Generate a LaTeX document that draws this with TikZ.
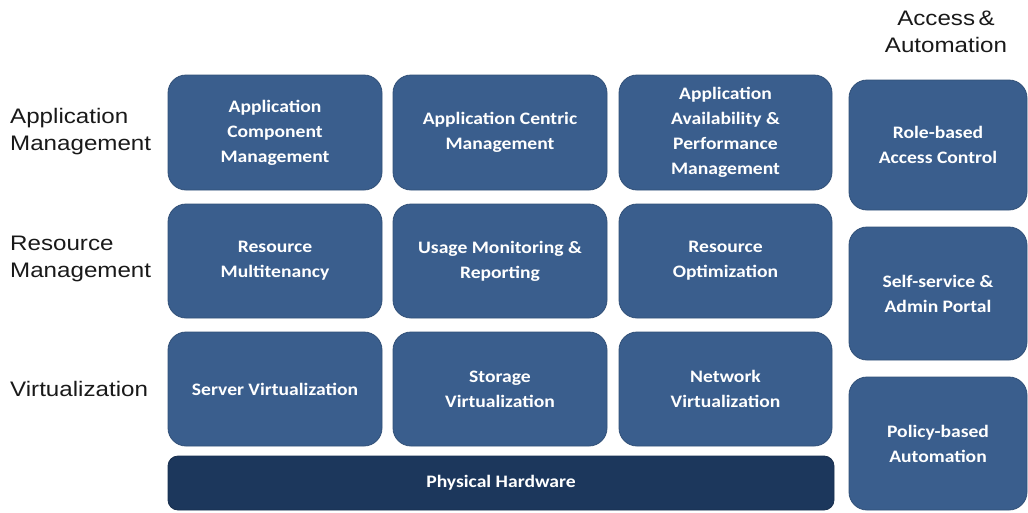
\documentclass[tikz,border=0pt]{standalone}
\usepackage{fontspec}
\usepackage{tikz}
\usetikzlibrary{positioning, calc}
\newfontfamily\boxfont[FakeStretch=1.12]{Carlito}
\newfontfamily\labfont[FakeStretch=1.15]{Liberation Sans}
\definecolor{boxblue}{HTML}{3A5E8D}
\definecolor{hwblue}{HTML}{1C375C}
\tikzset{
  layerbox/.style={draw=boxblue!85!black, line width=0.8pt, fill=boxblue, rounded corners=18pt,
    text=white, align=center, font=\boxfont\bfseries\fontsize{17.5}{25}\selectfont},
  hwbox/.style={layerbox, fill=hwblue, draw=hwblue!85!black, rounded corners=10pt},
  layerlabel/.style={anchor=west, align=left, inner sep=0pt, text=black!90,
    font=\labfont\fontsize{21}{27}\selectfont}
}

\begin{document}
\begin{tikzpicture}[x=1pt, y=-1pt]

  \useasboundingbox (0,0) rectangle (1028,512);

  % layer labels

  \node[layerlabel] (applab) at (10,132) {Application\\Management};
  \node[layerlabel] (reslab) at (10,259) {Resource\\Management};
  \node[layerlabel] (virtlab) at (10,389) {Virtualization};
  \node[layerlabel, anchor=center, align=center] (acclab) at (946,32) {Access\,\&\\Automation};

  % application management

  \node[layerbox, minimum width=214pt, minimum height=115pt] (appcomp) at (275,132.5) {Application\\Component\\Management};
  \node[layerbox, minimum width=214pt, minimum height=115pt] (appcent) at (500,132.5) {Application Centric\\Management};
  \node[layerbox, minimum width=213pt, minimum height=115pt] (appavail) at (725.5,132.5) {Application\\Availability \&\\Performance\\Management};

  % resource management

  \node[layerbox, minimum width=214pt, minimum height=114pt] (resmulti) at (275,261) {Resource\\Multitenancy};
  \node[layerbox, minimum width=214pt, minimum height=114pt] (usage) at (500,261) {Usage Monitoring \&\\Reporting};
  \node[layerbox, minimum width=213pt, minimum height=114pt] (resopt) at (725.5,261) {Resource\\Optimization};

  % virtualization

  \node[layerbox, minimum width=214pt, minimum height=114pt] (servvirt) at (275,389) {Server Virtualization};
  \node[layerbox, minimum width=214pt, minimum height=114pt] (storvirt) at (500,389) {Storage\\Virtualization};
  \node[layerbox, minimum width=213pt, minimum height=114pt] (netvirt) at (725.5,389) {Network\\Virtualization};

  \node[hwbox, minimum width=666pt, minimum height=54pt] (hw) at (501,483) {Physical Hardware};

  % access & automation

  \node[layerbox, minimum width=178pt, minimum height=130pt] (rbac) at (938,145) {Role-based\\Access Control};
  \node[layerbox, minimum width=178pt, minimum height=133pt] (selfserv) at (938,293.5) {Self-service \&\\Admin Portal};
  \node[layerbox, minimum width=178pt, minimum height=133pt] (policy) at (938,443.5) {Policy-based\\Automation};

\end{tikzpicture}
\end{document}
